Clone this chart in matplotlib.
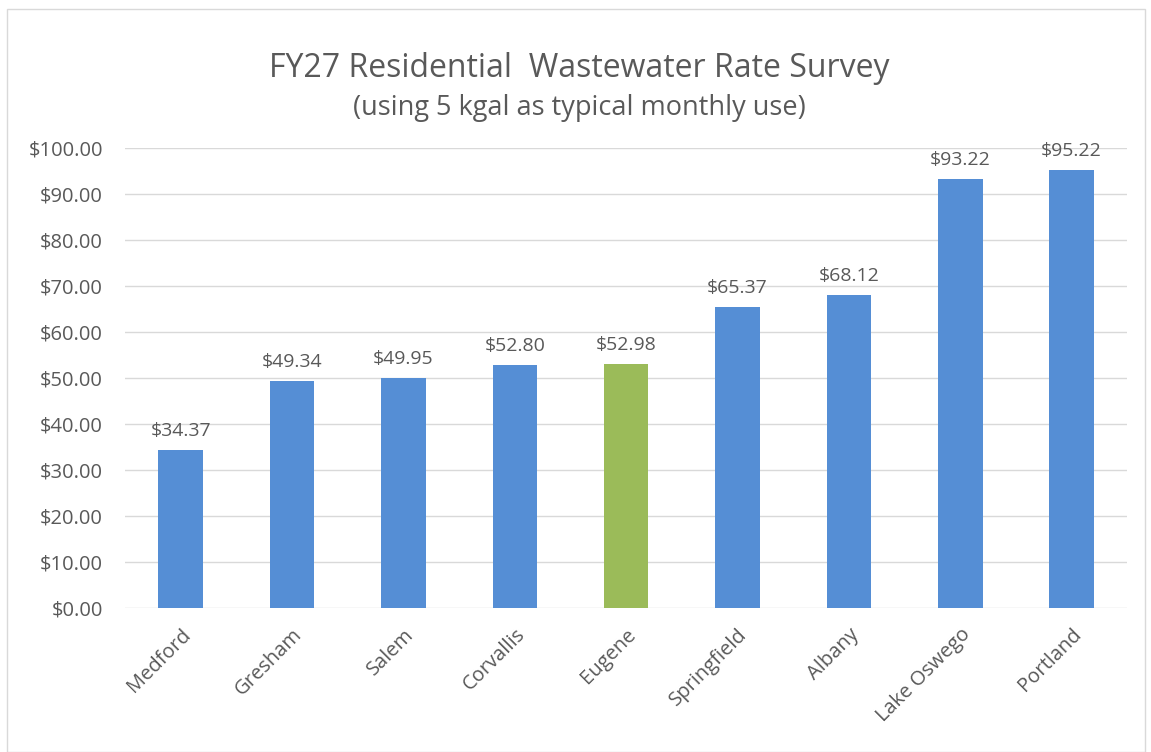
import matplotlib
matplotlib.use("Agg")
import matplotlib.pyplot as plt
from matplotlib.patches import Rectangle

cities = ["Medford", "Gresham", "Salem", "Corvallis", "Eugene", "Springfield", "Albany", "Lake Oswego", "Portland"]
rates = [34.37, 49.34, 49.95, 52.80, 52.98, 65.37, 68.12, 93.22, 95.22]
highlight = "Eugene"
yticks = [0, 10, 20, 30, 40, 50, 60, 70, 80, 90, 100]

plt.rcParams['font.family'] = ['Open Sans', 'DejaVu Sans']
txt = "#595959"

fig = plt.figure(figsize=(11.51, 7.52), dpi=100)
ax = fig.add_axes([0.1086, 0.1915, 0.9714 - 0.1086 + 0.008, 0.803 - 0.1915])

colors = ["#9BBB59" if c == highlight else "#558ED5" for c in cities]
x = range(len(cities))
bars = ax.bar(x, rates, width=0.4, color=colors, zorder=3)
for xi, v in zip(x, rates):
    ax.text(xi, v + 2.2, f"${v:.2f}", ha="center", va="bottom", fontsize=14, color=txt, clip_on=False)

ax.set_xlim(-0.5, len(cities) - 0.5)
ax.set_ylim(0, 100)
ax.set_yticks(yticks)
ax.set_yticklabels([f"${t:.2f}" for t in yticks], fontsize=14.5, color=txt)
ax.set_xticks(list(x))
ax.set_xticklabels(cities, rotation=45, ha="right", rotation_mode="anchor", fontsize=14.5, color=txt)
ax.tick_params(axis="both", length=0, pad=12)
ax.tick_params(axis="y", pad=16)
ax.grid(axis="y", color="#d9d9d9", linewidth=1, zorder=0)
for s in ax.spines.values():
    s.set_visible(False)

fig.text(0.503, 0.909, "FY27 Residential  Wastewater Rate Survey", ha="center", va="center", fontsize=23, color=txt)
fig.text(0.503, 0.856, "(using 5 kgal as typical monthly use)", ha="center", va="center", fontsize=19.5, color=txt)

fig.patches.append(Rectangle((7/1151, 0), (1145-7)/1151, 1 - 9/752, transform=fig.transFigure,
                             fill=False, edgecolor="#d9d9d9", linewidth=1))

fig.savefig("out.png", dpi=100, facecolor="white")
